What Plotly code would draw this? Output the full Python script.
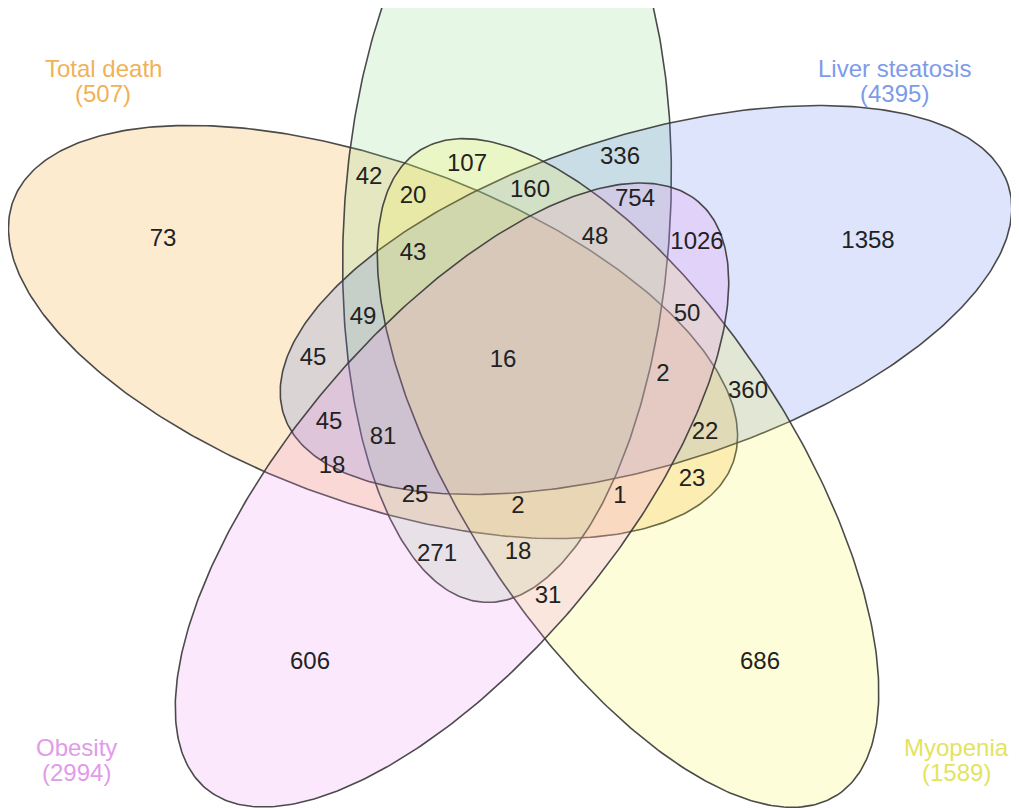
import numpy as np
import plotly.graph_objects as go

# ---- data ----
set_names = ["Total death", "", "Liver steatosis", "Myopenia", "Obesity"]
set_totals = [507, None, 4395, 1589, 2994]

region_counts = [73, 42, 20, 107, 336, 160, 754, 1026, 1358, 43, 48, 49, 45, 16,
                 50, 2, 360, 45, 81, 22, 18, 25, 2, 1, 23, 271, 18, 31, 606, 686]

# ---- layout (pixel positions of labels) ----
region_x = [163, 369, 413, 467, 620, 530, 635, 697, 868, 413, 595, 363, 313, 503,
            687, 663, 748, 329, 383, 705, 332, 415, 518, 620, 692, 437, 518, 548, 310, 760]
region_y = [240, 178, 197, 165, 158, 191, 200, 243, 242, 254, 238, 318, 359, 361,
            315, 375, 392, 423, 438, 433, 467, 496, 507, 497, 480, 555, 553, 597, 663, 663]

# ellipse geometry: cx, cy, semi-major, semi-minor, angle (deg, screen coords)
ellipses = [
    (373, 332, 383, 170, 20),     # Total death
    (507, 220, 383, 163, 93.5),   # green
    (646, 300, 380, 165, -17.5),  # Liver steatosis
    (628, 473, 384, 165, 57),     # Myopenia
    (452, 495, 383, 165, -50),    # Obesity
]
fill_colors = ["rgba(245,155,20,0.2)", "rgba(130,215,130,0.2)", "rgba(85,120,235,0.2)",
               "rgba(250,245,65,0.2)", "rgba(240,140,240,0.2)"]
label_colors = ["#F0B256", None, "#7D9BE9", "#E3E35E", "#E29BEA"]
label_pos = [(103, 68, 93), None, (894, 68, 93), (956, 747, 772), (76, 747, 772)]

FONT = "Arial, Liberation Sans, sans-serif"

fig = go.Figure()
t = np.linspace(0, 2 * np.pi, 400)
for (cx, cy, a, b, ang), fc in zip(ellipses, fill_colors):
    th = np.deg2rad(ang)
    x = cx + a * np.cos(t) * np.cos(th) - b * np.sin(t) * np.sin(th)
    y = cy + a * np.cos(t) * np.sin(th) + b * np.sin(t) * np.cos(th)
    fig.add_trace(go.Scatter(x=x, y=y, mode="lines", fill="toself", fillcolor=fc,
                             line=dict(color="rgba(55,55,55,0.9)", width=1.6),
                             hoverinfo="skip", showlegend=False))

fig.add_trace(go.Scatter(x=region_x, y=region_y, mode="text",
                         text=[str(v) for v in region_counts],
                         textfont=dict(family=FONT, size=24, color="#222222"),
                         hoverinfo="skip", showlegend=False))

for name, tot, col, pos in zip(set_names, set_totals, label_colors, label_pos):
    if not name:
        continue
    for txt, yy in ((name, pos[1]), (f"({tot})", pos[2])):
        fig.add_annotation(x=pos[0], y=yy, text=txt, showarrow=False,
                           font=dict(family=FONT, size=24, color=col), align="center",
                           xanchor="center", yanchor="middle")

# page body has an 8px margin: the plot area starts at page pixel (8, 8)
fig.update_xaxes(range=[8, 1019], visible=False, fixedrange=True)
fig.update_yaxes(range=[808, 8], visible=False, fixedrange=True)
fig.update_layout(width=1011, height=800, margin=dict(l=0, r=0, t=0, b=0),
                  plot_bgcolor="white", paper_bgcolor="white")
fig.write_html("out.html")
